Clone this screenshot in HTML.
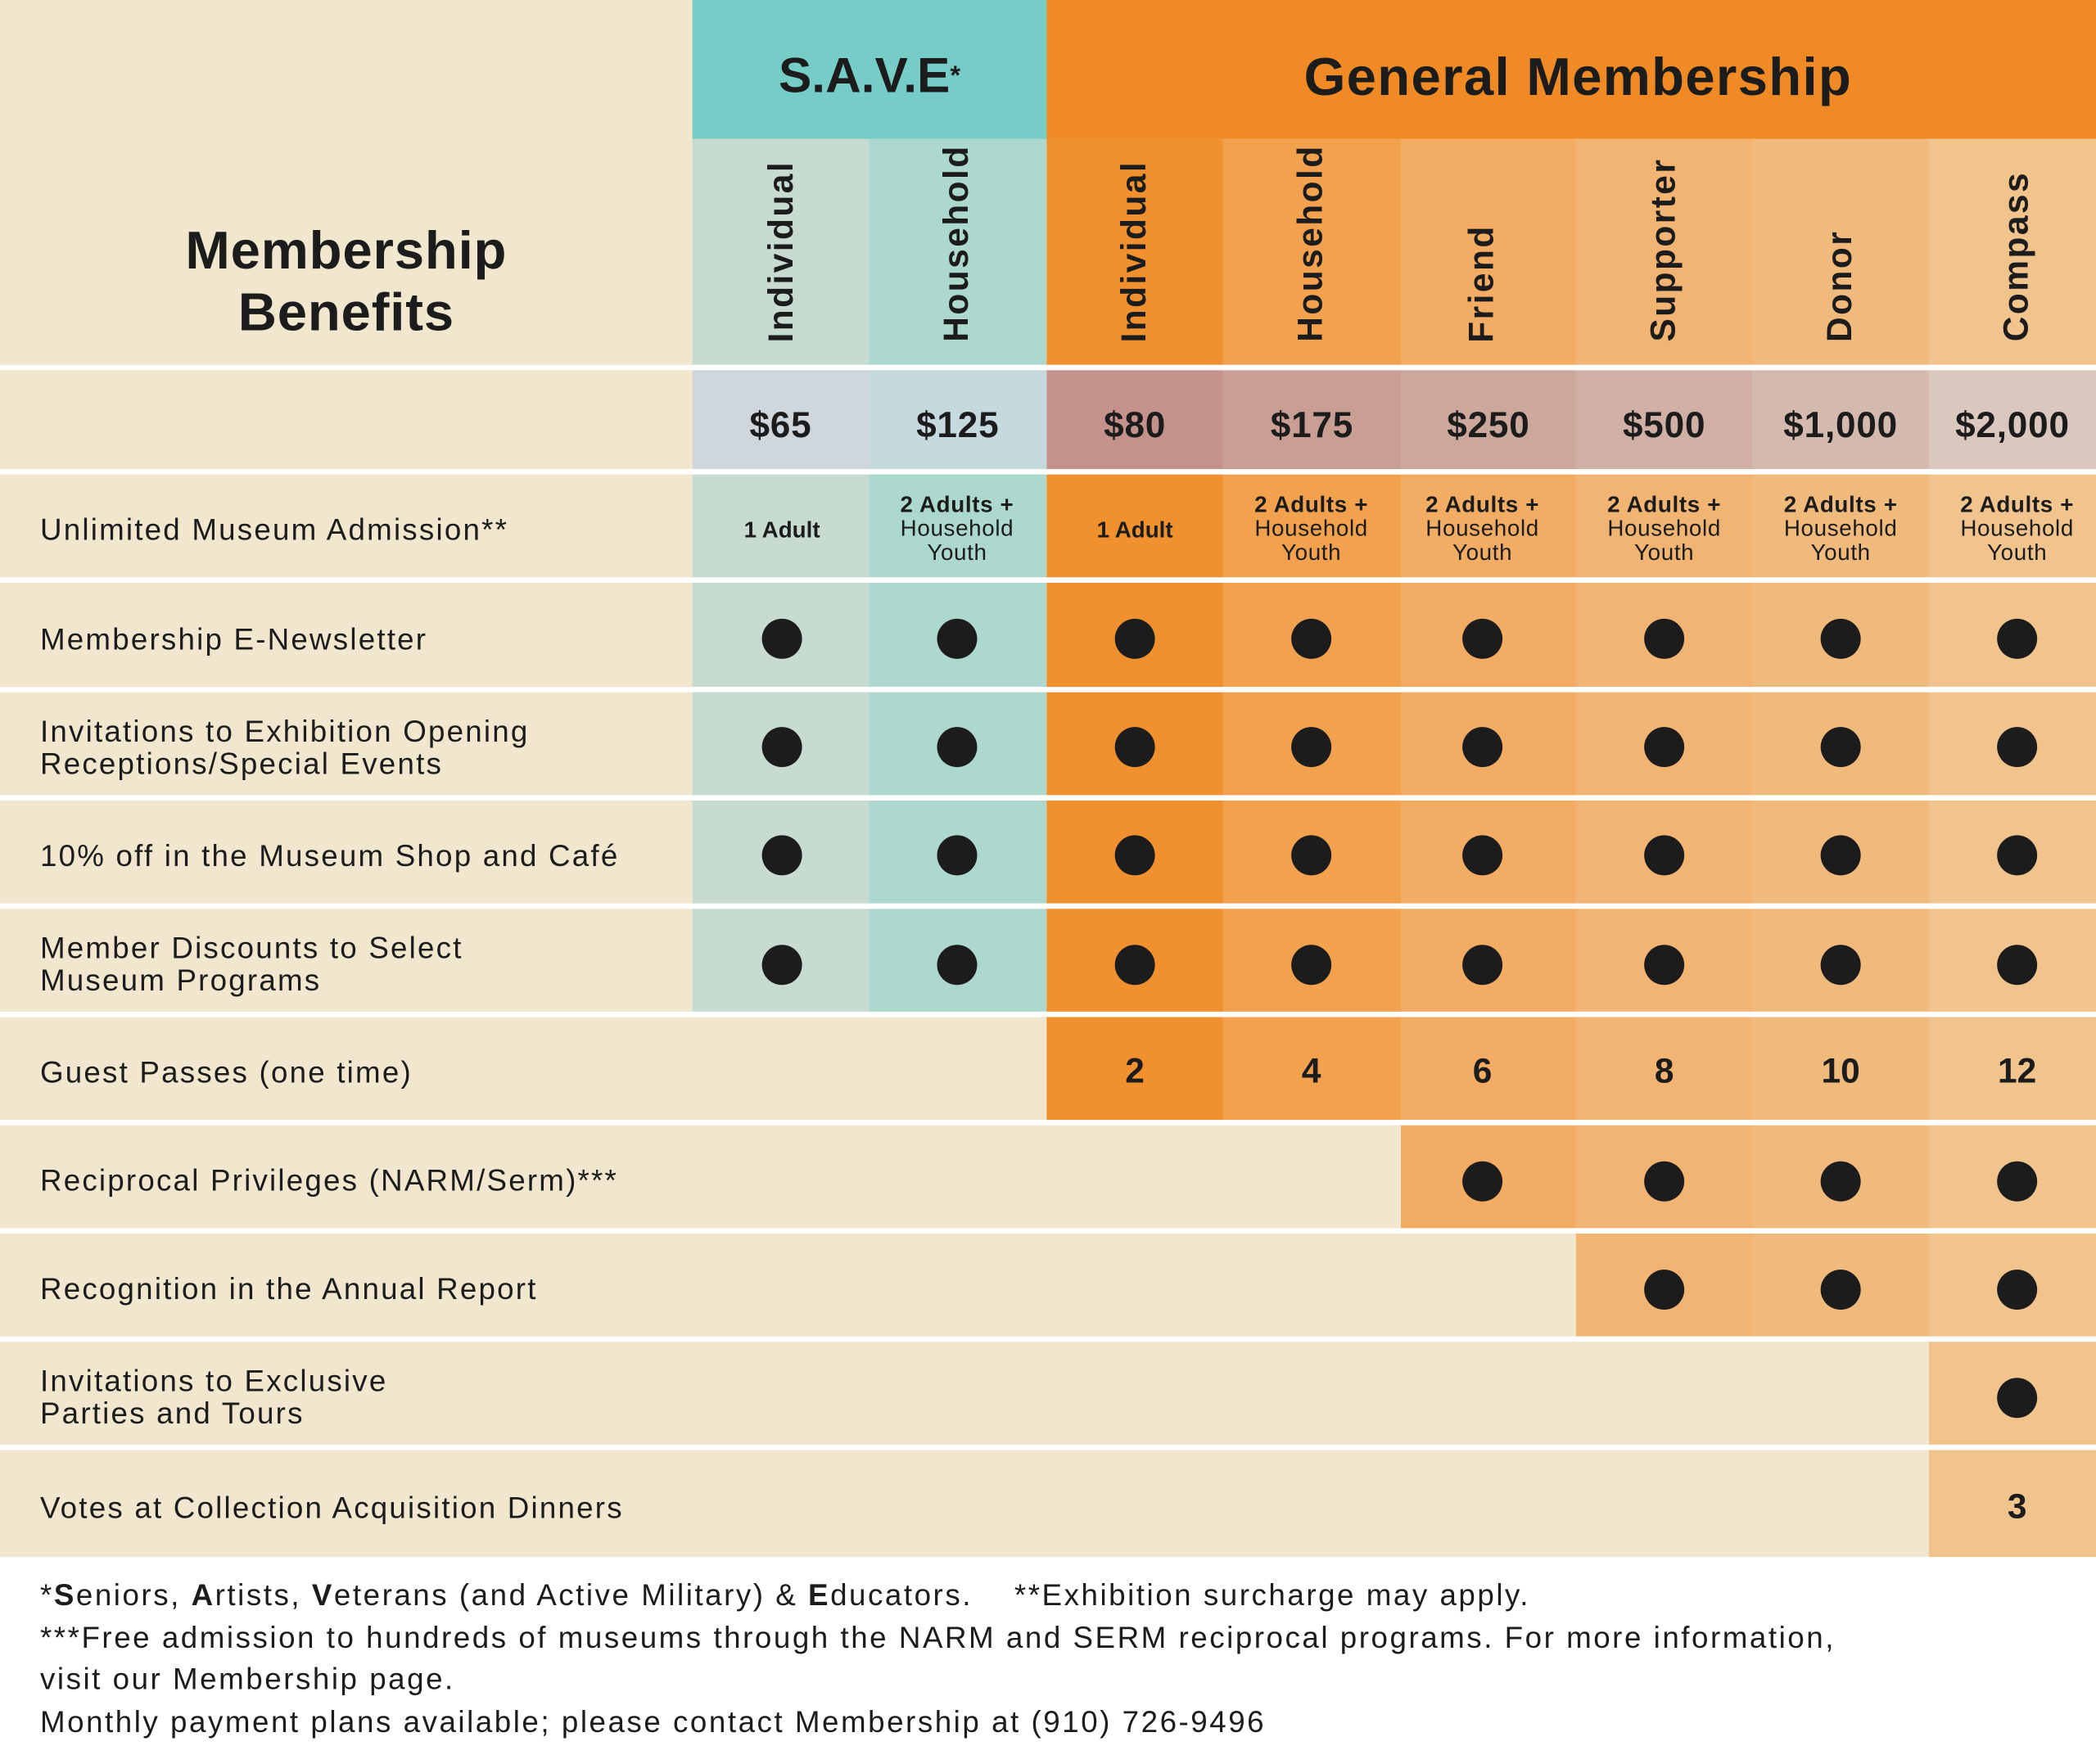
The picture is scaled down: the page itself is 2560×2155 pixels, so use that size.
<!DOCTYPE html>
<html><head><style>
*{margin:0;padding:0;box-sizing:border-box}
body{width:2560px;height:2154px;overflow:hidden;background:#fff;font-family:"Liberation Sans",sans-serif;color:#1c1c1c}
#w{position:absolute;left:0;top:0;width:1568px;height:1320px;transform:scale(1.63265);transform-origin:0 0;background:#fff}
.a{position:absolute}
.c{position:absolute;display:flex;align-items:center;justify-content:center;text-align:center}
.lbl{position:absolute;left:30px;font-size:22.5px;letter-spacing:1.35px;line-height:24px;display:flex;align-items:center;padding-top:7px}
.dot{position:absolute;width:30px;height:30px;border-radius:50%;background:#1c1c1c}
.v{position:absolute;writing-mode:vertical-rl;transform:rotate(180deg);font-weight:bold;font-size:26px;letter-spacing:1.5px;text-align:left}
.hl{position:absolute;left:0;width:1568px;height:4px;background:#fff}
</style></head><body><div id="w">
<div class="a" style="left:0;top:0;width:1568px;height:1165px;background:#f1e7cf"></div>
<div class="c" style="left:518px;top:0;width:265px;height:104px;background:#76cdc7;font-weight:bold;font-size:37px;padding-top:10px">S.A.V.E<sup style="font-size:20px">*</sup></div>
<div class="c" style="left:783px;top:0;width:785px;height:104px;background:#f08a24;font-weight:bold;font-size:40px;letter-spacing:0.8px;padding-left:10px;padding-top:12px">General Membership</div>
<div class="c" style="left:0;top:104px;width:518px;height:169px;font-weight:bold;font-size:40px;letter-spacing:0.5px;line-height:46px;padding-top:45px">Membership<br>Benefits</div>
<div id="rows"></div>
<div class="a" style="left:30px;top:1178px;font-size:22.5px;letter-spacing:1.55px;line-height:31.5px;width:1540px">
*<b>S</b>eniors, <b>A</b>rtists, <b>V</b>eterans (and Active Military) &amp; <b>E</b>ducators. &nbsp;&nbsp;&nbsp;**Exhibition surcharge may apply.<br>
***Free admission to hundreds of museums through the NARM and SERM reciprocal programs. For more information,<br>
visit our Membership page.<br>
Monthly payment plans available; please contact Membership at (910) 726-9496</div>
</div>
<script>
var X=[518,650,783,915,1048,1179,1311,1443,1568];
var body=["#c8dbd0","#acd8cd","#f0902e","#f2a14f","#f2ac63","#f1b472","#f1ba7d","#f2c48d"];
var price=["#cfd6dc","#c6d9de","#c4928a","#c99f93","#cca89c","#d0b0a4","#d4b9ae","#dac7bd"];
var names=["Individual","Household","Individual","Household","Friend","Supporter","Donor","Compass"];
var prices=["$65","$125","$80","$175","$250","$500","$1,000","$2,000"];
var dotx=[585,716,849,981,1109,1245,1377,1509];
var h="";
var rowT=[355,436,517,598,680,761,842,923,1004,1085];
var rowB=[432,514,595,676,757,838,919,1000,1081,1165];
var start=[0,0,0,0,0,2,4,5,7,7];
var labels=["Unlimited Museum Admission**","Membership E-Newsletter","Invitations to Exhibition Opening<br>Receptions/Special Events","10% off in the Museum Shop and Café","Member Discounts to Select<br>Museum Programs","Guest Passes (one time)","Reciprocal Privileges (NARM/Serm)***","Recognition in the Annual Report","Invitations to Exclusive<br>Parties and Tours","Votes at Collection Acquisition Dinners"];
var guest=["2","4","6","8","10","12"];
for(var i=0;i<8;i++){
 var l=X[i],w=X[i+1]-l;
 h+='<div class="a" style="left:'+l+'px;top:104px;width:'+w+'px;height:169px;background:'+body[i]+'"></div>';
 h+='<div class="v" style="left:'+(dotx[i]-16)+'px;bottom:'+(1320-256)+'px">'+names[i]+'</div>';
 h+='<div class="c" style="left:'+l+'px;top:277px;width:'+w+'px;height:74px;background:'+price[i]+';font-weight:bold;font-size:27px;letter-spacing:0.5px;padding-top:8px">'+prices[i]+'</div>';
}
for(var r=0;r<10;r++){
 var t=rowT[r],b=rowB[r];
 h+='<div class="lbl" style="top:'+t+'px;height:'+(b-t)+'px">'+labels[r]+'</div>';
 for(var i=start[r];i<8;i++){
  var l=X[i],w=X[i+1]-l;
  h+='<div class="a" style="left:'+l+'px;top:'+t+'px;width:'+w+'px;height:'+(b-t)+'px;background:'+body[i]+'"></div>';
  var cy=(t+b)/2+3;
  if(r==0){
   var one=(i==0||i==2);
   var txt=one?'<b style="font-size:17px">1 Adult</b>':'<div style="font-size:17px;line-height:18px;letter-spacing:0.4px"><b>2 Adults +</b><br>Household<br>Youth</div>';
   h+='<div class="c" style="left:'+(dotx[i]-65)+'px;top:'+t+'px;width:130px;height:'+(b-t)+'px;padding-top:'+(one?6:4)+'px">'+txt+'</div>';
  } else if(r==5||r==9){
   h+='<div class="c" style="left:'+(dotx[i]-40)+'px;top:'+t+'px;width:80px;height:'+(b-t)+'px;font-weight:bold;font-size:26px;padding-top:4px">'+(r==5?guest[i-2]:"3")+'</div>';
  } else {
   h+='<div class="dot" style="left:'+(dotx[i]-15)+'px;top:'+(cy-15)+'px"></div>';
  }
 }
}
var lines=[273,351,432,514,595,676,757,838,919,1000,1081];
for(var k=0;k<lines.length;k++) h+='<div class="hl" style="top:'+lines[k]+'px"></div>';
document.getElementById('rows').innerHTML=h;
</script>
</body></html>
